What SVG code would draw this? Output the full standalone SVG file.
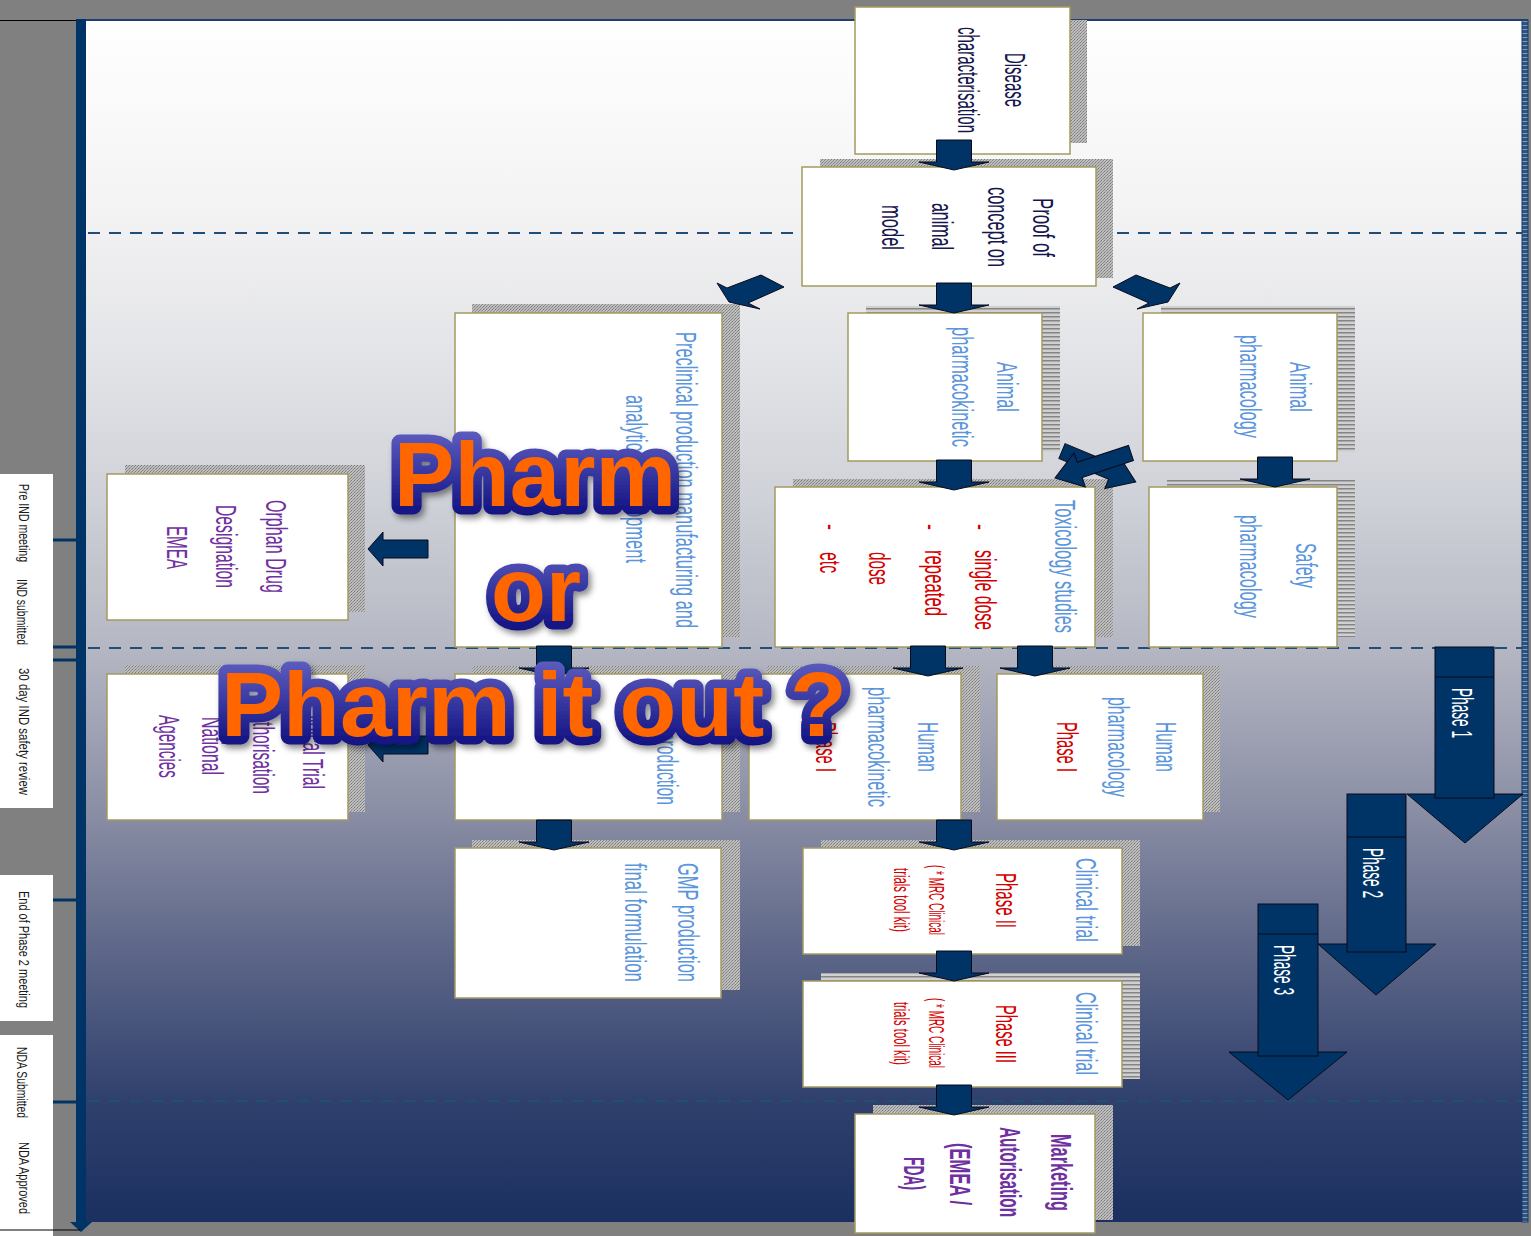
<svg xmlns="http://www.w3.org/2000/svg" xmlns:xlink="http://www.w3.org/1999/xlink" width="1531" height="1236" viewBox="0 0 1531 1236">
<style>
.box{fill:#fff;stroke:#a39a60;stroke-width:1.5}
.chk{fill:url(#chk)}
.lns{fill:url(#lns)}
.t{font-family:"Liberation Sans",Arial,sans-serif;font-size:30px}
.s{font-size:22px}
.lab{font-family:"Liberation Sans",Arial,sans-serif;font-size:15px;fill:#1a1a1a}
.nv{fill:#16164e}
.bl{fill:#5b95dc}
.rd{fill:#d40000}
.pu{fill:#7030a0}
.b{font-weight:bold}
.arr{fill:#003366;stroke:#0a0a1a;stroke-width:1}
.dash{stroke:#1f4e79;stroke-width:2.2;stroke-dasharray:12 9;fill:none}
.tick{stroke:#003366;stroke-width:3}
.ph{font-family:"Liberation Sans",Arial,sans-serif;font-size:29px;fill:#fff}
.big{font-family:"Liberation Sans",Arial,sans-serif;font-weight:bold;font-size:90px;fill:#ff6600;stroke:url(#navyGrad);stroke-width:17;paint-order:stroke;stroke-linejoin:round;filter:url(#shadow)}
</style>
<defs>
<linearGradient id="panelGrad" gradientUnits="userSpaceOnUse" x1="0" y1="20" x2="0" y2="1222">
<stop offset="0" stop-color="#ffffff"/>
<stop offset="0.15" stop-color="#f4f4f5"/>
<stop offset="0.3" stop-color="#e0e1e5"/>
<stop offset="0.4" stop-color="#cfd1d8"/>
<stop offset="0.52" stop-color="#b5b7c3"/>
<stop offset="0.65" stop-color="#8d91a7"/>
<stop offset="0.77" stop-color="#5f6889"/>
<stop offset="0.9" stop-color="#2f406d"/>
<stop offset="1" stop-color="#1b3060"/>
</linearGradient>
<linearGradient id="navyGrad" x1="0" y1="0" x2="0" y2="1">
<stop offset="0" stop-color="#6262c4"/>
<stop offset="1" stop-color="#08087a"/>
</linearGradient>
<filter id="shadow" x="-10%" y="-20%" width="130%" height="150%">
<feDropShadow dx="3" dy="4" stdDeviation="3" flood-color="#000" flood-opacity="0.45"/>
</filter>
<pattern id="chk" width="3" height="3" patternUnits="userSpaceOnUse">
<rect width="3" height="3" fill="#bdbdbd"/><rect width="1" height="1" fill="#7a7a7a"/><rect x="2" y="1" width="1" height="1" fill="#8a8a8a"/><rect x="1" y="2" width="1" height="1" fill="#909090"/>
</pattern>
<pattern id="lns" width="4" height="4" patternUnits="userSpaceOnUse">
<rect width="4" height="4" fill="#d0d0d0"/><rect width="4" height="1.5" fill="#858585"/>
</pattern>
<pattern id="edge" width="6" height="4" patternUnits="userSpaceOnUse">
<rect width="6" height="4" fill="#2a5488"/><rect y="1" width="6" height="1" fill="#8e9cb0"/>
</pattern>
<path id="da" d="M-17.5,-30 H17.5 V-8 H35 L0,0 L-35,-8 H-17.5 Z" fill="#003366" stroke="#0a0a1a" stroke-width="1"/>
<path id="la" d="M0,0 L15,-17 V-9 H60 V9 H15 V17 Z" fill="#003366" stroke="#0a0a1a" stroke-width="1"/>
<path id="xa" d="M0,-8 H54 V-18 L80,0 L54,18 V8 H0 Z" fill="#003366" stroke="#0a0a1a" stroke-width="1"/>
</defs>

<g id="background">
<rect width="1531" height="1236" fill="#808080"/>
<rect x="86" y="20" width="1436" height="1202" fill="url(#panelGrad)"/>
<rect x="1522" y="20" width="6" height="1202" fill="url(#edge)" stroke="#143a66" stroke-width="1"/>
<line x1="76" y1="20" x2="1528" y2="20" stroke="#1f3f6e" stroke-width="2"/>
<line x1="0" y1="20.5" x2="80" y2="20.5" stroke="#000" stroke-width="1.2"/>
<line class="dash" x1="88" y1="233" x2="1522" y2="233"/>
<line class="dash" x1="88" y1="648" x2="1522" y2="648"/>
<line class="dash" x1="88" y1="1101" x2="1522" y2="1101"/>
</g>

<g id="timeline">
<rect x="0" y="474" width="53" height="334" fill="#fff"/>
<rect x="0" y="875" width="53" height="146" fill="#fff"/>
<rect x="0" y="1035" width="53" height="201" fill="#fff"/>
<line class="tick" x1="53" y1="540" x2="78" y2="540"/>
<line class="tick" x1="53" y1="647" x2="78" y2="647"/>
<line class="tick" x1="53" y1="660" x2="78" y2="660"/>
<line class="tick" x1="53" y1="900" x2="78" y2="900"/>
<line class="tick" x1="53" y1="1102" x2="78" y2="1102"/>
<rect x="76" y="19" width="10" height="1204" fill="#003366"/>
<polygon points="70,1222 92,1222 81,1232" fill="#003366"/>
<line x1="0" y1="1230" x2="80" y2="1230" stroke="#000" stroke-width="1.2"/>
<text class="lab" transform="rotate(90)" x="484" y="-19" textLength="78" lengthAdjust="spacingAndGlyphs">Pre IND meeting</text>
<text class="lab" transform="rotate(90)" x="579" y="-17" textLength="66" lengthAdjust="spacingAndGlyphs">IND submitted</text>
<text class="lab" transform="rotate(90)" x="668" y="-19" textLength="127" lengthAdjust="spacingAndGlyphs">30 day IND safety review</text>
<text class="lab" transform="rotate(90)" x="891" y="-19" textLength="117" lengthAdjust="spacingAndGlyphs">End of Phase 2 meeting</text>
<text class="lab" transform="rotate(90)" x="1047" y="-17" textLength="71" lengthAdjust="spacingAndGlyphs">NDA Submitted</text>
<text class="lab" transform="rotate(90)" x="1142" y="-19" textLength="72" lengthAdjust="spacingAndGlyphs">NDA Approved</text>
</g>

<g id="n-disease">
<rect class="chk" x="873" y="20" width="214" height="123"/>
<rect class="box" x="855" y="7" width="215" height="147"/>
<text class="t nv" transform="rotate(90)" x="53" y="-1005" textLength="54" lengthAdjust="spacingAndGlyphs">Disease</text>
<text class="t nv" transform="rotate(90)" x="27" y="-958" textLength="106" lengthAdjust="spacingAndGlyphs">characterisation</text>
</g>

<g id="n-proof">
<rect class="chk" x="820" y="159" width="293" height="119"/>
<rect class="box" x="802" y="167" width="294" height="119"/>
<text class="t nv" transform="rotate(90)" x="198" y="-1033" textLength="59" lengthAdjust="spacingAndGlyphs">Proof of</text>
<text class="t nv" transform="rotate(90)" x="187" y="-988" textLength="80" lengthAdjust="spacingAndGlyphs">concept on</text>
<text class="t nv" transform="rotate(90)" x="203" y="-932" textLength="47" lengthAdjust="spacingAndGlyphs">animal</text>
<text class="t nv" transform="rotate(90)" x="205" y="-882" textLength="45" lengthAdjust="spacingAndGlyphs">model</text>
</g>

<g id="n-preclinical">
<rect class="chk" x="472" y="304" width="268" height="333"/>
<rect class="box" x="455" y="313" width="267" height="334"/>
<text class="t bl" transform="rotate(90)" x="332" y="-676" textLength="296" lengthAdjust="spacingAndGlyphs">Preclinical production manufacturing and</text>
<text class="t bl" transform="rotate(90)" x="395" y="-626" textLength="168" lengthAdjust="spacingAndGlyphs">analytical development</text>
</g>

<g id="n-animal-pk">
<rect class="lns" x="866" y="306" width="194" height="146"/>
<rect class="box" x="848" y="313" width="194" height="148"/>
<text class="t bl" transform="rotate(90)" x="362" y="-997" textLength="50" lengthAdjust="spacingAndGlyphs">Animal</text>
<text class="t bl" transform="rotate(90)" x="327" y="-952" textLength="120" lengthAdjust="spacingAndGlyphs">pharmacokinetic</text>
</g>

<g id="n-animal-pharm">
<rect class="lns" x="1161" y="306" width="194" height="146"/>
<rect class="box" x="1143" y="313" width="194" height="148"/>
<text class="t bl" transform="rotate(90)" x="362" y="-1290" textLength="50" lengthAdjust="spacingAndGlyphs">Animal</text>
<text class="t bl" transform="rotate(90)" x="335" y="-1240" textLength="103" lengthAdjust="spacingAndGlyphs">pharmacology</text>
</g>

<g id="n-orphan">
<rect class="chk" x="125" y="465" width="240" height="147"/>
<rect class="box" x="107" y="474" width="241" height="146"/>
<text class="t pu" transform="rotate(90)" x="500" y="-266" textLength="93" lengthAdjust="spacingAndGlyphs">Orphan Drug</text>
<text class="t pu" transform="rotate(90)" x="505" y="-216" textLength="83" lengthAdjust="spacingAndGlyphs">Designation</text>
<text class="t pu" transform="rotate(90)" x="526" y="-167" textLength="43" lengthAdjust="spacingAndGlyphs">EMEA</text>
</g>

<g id="n-toxicology">
<rect class="chk" x="793" y="479" width="320" height="158"/>
<rect class="box" x="775" y="487" width="320" height="160"/>
<text class="t bl" transform="rotate(90)" x="500" y="-1055" textLength="133" lengthAdjust="spacingAndGlyphs">Toxicology studies</text>
<text class="t rd" transform="rotate(90)" x="524" y="-971" textLength="6" lengthAdjust="spacingAndGlyphs">-</text>
<text class="t rd" transform="rotate(90)" x="550" y="-975" textLength="80" lengthAdjust="spacingAndGlyphs">single dose</text>
<text class="t rd" transform="rotate(90)" x="524" y="-921" textLength="6" lengthAdjust="spacingAndGlyphs">-</text>
<text class="t rd" transform="rotate(90)" x="550" y="-925" textLength="66" lengthAdjust="spacingAndGlyphs">repeated</text>
<text class="t rd" transform="rotate(90)" x="552" y="-869" textLength="33" lengthAdjust="spacingAndGlyphs">dose</text>
<text class="t rd" transform="rotate(90)" x="524" y="-821" textLength="6" lengthAdjust="spacingAndGlyphs">-</text>
<text class="t rd" transform="rotate(90)" x="552" y="-820" textLength="21" lengthAdjust="spacingAndGlyphs">etc</text>
</g>

<g id="n-safety">
<rect class="lns" x="1167" y="480" width="188" height="157"/>
<rect class="box" x="1149" y="487" width="188" height="160"/>
<text class="t bl" transform="rotate(90)" x="543" y="-1296" textLength="45" lengthAdjust="spacingAndGlyphs">Safety</text>
<text class="t bl" transform="rotate(90)" x="515" y="-1240" textLength="103" lengthAdjust="spacingAndGlyphs">pharmacology</text>
</g>

<g id="n-cta">
<rect class="chk" x="125" y="665" width="240" height="147"/>
<rect class="box" x="107" y="674" width="241" height="146"/>
<text class="t pu" transform="rotate(90)" x="704" y="-303" textLength="85" lengthAdjust="spacingAndGlyphs">Clinical Trial</text>
<text class="t pu" transform="rotate(90)" x="703" y="-253" textLength="91" lengthAdjust="spacingAndGlyphs">Authorisation</text>
<text class="t pu" transform="rotate(90)" x="717" y="-202" textLength="58" lengthAdjust="spacingAndGlyphs">National</text>
<text class="t pu" transform="rotate(90)" x="715" y="-159" textLength="63" lengthAdjust="spacingAndGlyphs">Agencies</text>
</g>

<g id="n-gmp">
<rect class="chk" x="472" y="666" width="268" height="146"/>
<rect class="box" x="455" y="674" width="267" height="146"/>
<text class="t bl" transform="rotate(90)" x="692" y="-657" textLength="113" lengthAdjust="spacingAndGlyphs">GMP production</text>
</g>

<g id="n-human-pk">
<rect class="chk" x="767" y="666" width="213" height="146"/>
<rect class="box" x="749" y="674" width="212" height="146"/>
<text class="t bl" transform="rotate(90)" x="722" y="-918" textLength="50" lengthAdjust="spacingAndGlyphs">Human</text>
<text class="t bl" transform="rotate(90)" x="687" y="-868" textLength="120" lengthAdjust="spacingAndGlyphs">pharmacokinetic</text>
<text class="t rd" transform="rotate(90)" x="722" y="-816" textLength="50" lengthAdjust="spacingAndGlyphs">Phase I</text>
</g>

<g id="n-human-pharm">
<rect class="chk" x="1015" y="666" width="205" height="146"/>
<rect class="box" x="997" y="674" width="206" height="146"/>
<text class="t bl" transform="rotate(90)" x="722" y="-1156" textLength="50" lengthAdjust="spacingAndGlyphs">Human</text>
<text class="t bl" transform="rotate(90)" x="697" y="-1108" textLength="100" lengthAdjust="spacingAndGlyphs">pharmacology</text>
<text class="t rd" transform="rotate(90)" x="722" y="-1057" textLength="50" lengthAdjust="spacingAndGlyphs">Phase I</text>
</g>

<g id="n-gmp-final">
<rect class="chk" x="472" y="840" width="268" height="150"/>
<rect class="box" x="455" y="848" width="266" height="150"/>
<text class="t bl" transform="rotate(90)" x="863" y="-678" textLength="119" lengthAdjust="spacingAndGlyphs">GMP production</text>
<text class="t bl" transform="rotate(90)" x="863" y="-625" textLength="119" lengthAdjust="spacingAndGlyphs">final formulation</text>
</g>

<g id="n-phase2">
<rect class="chk" x="821" y="840" width="319" height="106"/>
<rect class="box" x="803" y="848" width="319" height="106"/>
<text class="t bl" transform="rotate(90)" x="858" y="-1076" textLength="84" lengthAdjust="spacingAndGlyphs">Clinical trial</text>
<text class="t rd" transform="rotate(90)" x="873" y="-996" textLength="55" lengthAdjust="spacingAndGlyphs">Phase II</text>
<text class="t s rd" transform="rotate(90)" x="865" y="-929" textLength="70" lengthAdjust="spacingAndGlyphs">( * MRC Clinical</text>
<text class="t s rd" transform="rotate(90)" x="868" y="-894" textLength="64" lengthAdjust="spacingAndGlyphs">trials tool kit)</text>
</g>

<g id="n-phase3">
<rect class="lns" x="821" y="973" width="319" height="106"/>
<rect class="box" x="803" y="981" width="319" height="106"/>
<text class="t bl" transform="rotate(90)" x="992" y="-1076" textLength="83" lengthAdjust="spacingAndGlyphs">Clinical trial</text>
<text class="t rd" transform="rotate(90)" x="1005" y="-996" textLength="58" lengthAdjust="spacingAndGlyphs">Phase III</text>
<text class="t s rd" transform="rotate(90)" x="998" y="-929" textLength="70" lengthAdjust="spacingAndGlyphs">( * MRC Clinical</text>
<text class="t s rd" transform="rotate(90)" x="1002" y="-894" textLength="63" lengthAdjust="spacingAndGlyphs">trials tool kit)</text>
</g>

<g id="n-marketing">
<rect class="chk" x="873" y="1105" width="240" height="115"/>
<rect class="box" x="855" y="1114" width="240" height="119"/>
<text class="t b pu" transform="rotate(90)" x="1134" y="-1051" textLength="77" lengthAdjust="spacingAndGlyphs">Marketing</text>
<text class="t b pu" transform="rotate(90)" x="1127" y="-1000" textLength="90" lengthAdjust="spacingAndGlyphs">Autorisation</text>
<text class="t b pu" transform="rotate(90)" x="1143" y="-950" textLength="62" lengthAdjust="spacingAndGlyphs">(EMEA /</text>
<text class="t b pu" transform="rotate(90)" x="1157" y="-904" textLength="33" lengthAdjust="spacingAndGlyphs">FDA)</text>
</g>

<g id="connectors">
<use xlink:href="#da" href="#da" x="954" y="170"/>
<use xlink:href="#da" href="#da" x="954" y="313"/>
<use xlink:href="#da" href="#da" x="954" y="490"/>
<use xlink:href="#da" href="#da" x="1275" y="487"/>
<use xlink:href="#da" href="#da" x="554" y="676"/>
<use xlink:href="#da" href="#da" x="928" y="676"/>
<use xlink:href="#da" href="#da" x="1035" y="676"/>
<use xlink:href="#da" href="#da" x="554" y="850"/>
<use xlink:href="#da" href="#da" x="954" y="850"/>
<use xlink:href="#da" href="#da" x="954" y="981"/>
<use xlink:href="#da" href="#da" x="954" y="1115"/>
<use xlink:href="#la" href="#la" x="368" y="549"/>
<use xlink:href="#la" href="#la" x="368" y="745"/>
<polygon class="arr" points="1113,287 1136,275 1170,288 1180,283 1168,302 1137,309 1149,303"/>
<polygon class="arr" points="784,287 761,275 727,288 717,283 729,302 760,309 748,303"/>
<use xlink:href="#xa" href="#xa" transform="translate(1062,451) rotate(22.8)"/>
<use xlink:href="#xa" href="#xa" transform="translate(1131,453) rotate(161.8)"/>
</g>

<g id="phase-1">
<polygon class="arr" points="1407,794 1523,794 1465,843"/>
<rect class="arr" x="1435" y="647" width="59" height="151"/>
<line x1="1435" y1="677" x2="1494" y2="677" stroke="#0a0a1a" stroke-width="1"/>
<text class="ph" transform="rotate(90)" x="688" y="-1452" textLength="50" lengthAdjust="spacingAndGlyphs">Phase 1</text>
</g>
<g id="phase-2">
<polygon class="arr" points="1318,944 1436,944 1376,995"/>
<rect class="arr" x="1347" y="794" width="59" height="158"/>
<line x1="1347" y1="837" x2="1406" y2="837" stroke="#0a0a1a" stroke-width="1"/>
<text class="ph" transform="rotate(90)" x="848" y="-1363" textLength="50" lengthAdjust="spacingAndGlyphs">Phase 2</text>
</g>
<g id="phase-3">
<polygon class="arr" points="1229,1052 1347,1052 1288,1100"/>
<rect class="arr" x="1258" y="904" width="60" height="152"/>
<line x1="1258" y1="934" x2="1318" y2="934" stroke="#0a0a1a" stroke-width="1"/>
<text class="ph" transform="rotate(90)" x="945" y="-1274" textLength="50" lengthAdjust="spacingAndGlyphs">Phase 3</text>
</g>

<g id="title-overlay">
<text class="big" x="394" y="506" textLength="282" lengthAdjust="spacingAndGlyphs">Pharm</text>
<text class="big" x="491" y="621" textLength="90" lengthAdjust="spacingAndGlyphs">or</text>
<text class="big" x="221" y="736" textLength="626" lengthAdjust="spacingAndGlyphs">Pharm it out ?</text>
</g>
</svg>
